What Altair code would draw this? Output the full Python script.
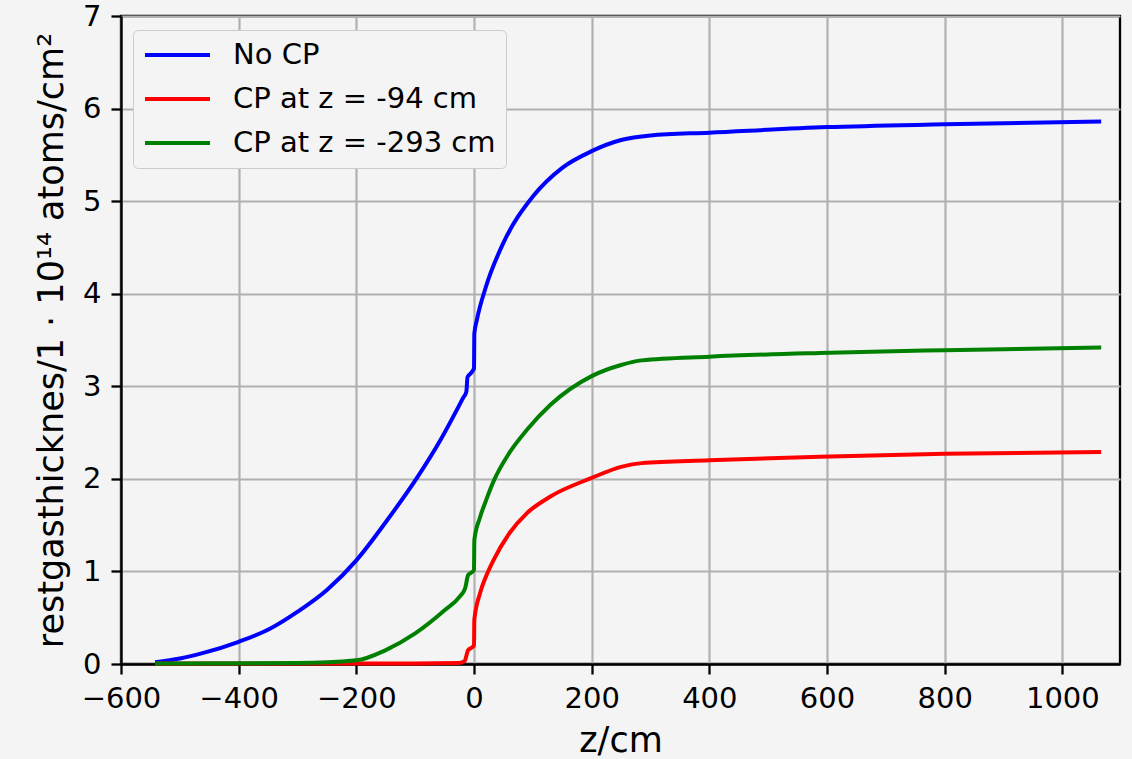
import altair as alt
import pandas as pd

series_names = ["No CP", "CP at z = -94 cm", "CP at z = -293 cm"]
series_colors = ["#0000ff", "#ff0000", "#008000"]

z_nocp = [-542, -500, -460, -400, -347, -301, -250, -200, -148, -97, -57, -18, -13, -11, -4, -1, 0, 0.6, 5, 20, 50, 100, 150, 200, 250, 300, 400, 600, 800, 1066]
y_nocp = [0.02, 0.06, 0.12, 0.24, 0.38, 0.56, 0.80, 1.12, 1.55, 2.01, 2.42, 2.88, 2.94, 3.10, 3.15, 3.18, 3.19, 3.57, 3.72, 4.07, 4.55, 5.05, 5.36, 5.54, 5.66, 5.71, 5.74, 5.80, 5.83, 5.86]

z_cp94 = [-542, -200, -100, -25, -16, -10, -3, 0, 0.6, 10, 20, 33, 60, 90, 130, 200, 250, 285, 400, 588, 800, 1066]
y_cp94 = [0.005, 0.005, 0.005, 0.01, 0.03, 0.15, 0.18, 0.20, 0.48, 0.76, 0.94, 1.12, 1.41, 1.63, 1.81, 2.01, 2.13, 2.17, 2.20, 2.24, 2.27, 2.29]

z_cp293 = [-542, -300, -200, -150, -100, -50, -24, -15, -10, -2, 0, 0.6, 10, 20, 33, 60, 90, 130, 200, 250, 285, 400, 588, 800, 1066]
y_cp293 = [0.005, 0.01, 0.04, 0.15, 0.33, 0.58, 0.73, 0.82, 0.96, 1.00, 1.02, 1.34, 1.58, 1.76, 1.97, 2.28, 2.53, 2.80, 3.11, 3.23, 3.28, 3.32, 3.36, 3.39, 3.42]

x_ticks = [-600, -400, -200, 0, 200, 400, 600, 800, 1000]
y_ticks = [0, 1, 2, 3, 4, 5, 6, 7]

rows = []
for name, zs, ys in zip(series_names, [z_nocp, z_cp94, z_cp293], [y_nocp, y_cp94, y_cp293]):
    for i, (z, y) in enumerate(zip(zs, ys)):
        rows.append({"series": name, "z": z, "y": y, "i": i})
df = pd.DataFrame(rows)

FONT = "DejaVu Sans"

chart = alt.Chart(df).mark_line(strokeWidth=4, strokeCap="butt", strokeJoin="round",
                                interpolate="monotone").encode(
    x=alt.X("z:Q",
            scale=alt.Scale(domain=[-600, 1098], nice=False, zero=False),
            axis=alt.Axis(values=x_ticks, title="z/cm", titleY=87, titleBaseline="alphabetic",
                          labelPadding=10, labelFlush=False, format="d")),
    y=alt.Y("y:Q",
            scale=alt.Scale(domain=[0, 7], nice=False),
            axis=alt.Axis(values=y_ticks, title="restgasthicknes/1 · 10¹⁴ atoms/cm²",
                          titleX=-59, titleBaseline="alphabetic", labelPadding=10, format="d")),
    color=alt.Color("series:N",
                    scale=alt.Scale(domain=series_names, range=series_colors),
                    sort=series_names,
                    legend=alt.Legend(orient="none", legendX=12, legendY=14, title=None,
                                      symbolType="stroke", symbolSize=4225, symbolStrokeWidth=4,
                                      clipHeight=30, rowPadding=14, labelOffset=21, padding=10,
                                      labelFontSize=29, labelFont=FONT, labelColor="#000000",
                                      strokeColor="#cccccc", fillColor="#f4f4f4", cornerRadius=5,
                                      labelLimit=0)),
    order="i:Q",
    detail="series:N",
).properties(
    width=999, height=648,
    autosize=alt.AutoSizeParams(type="none"),
    padding={"left": 121, "top": 16, "right": 12, "bottom": 95},
    background="#f4f4f4",
).configure_view(
    stroke="#000000", strokeWidth=2.3, fill="#f4f4f4"
).configure_axis(
    labelFont=FONT, titleFont=FONT, labelFontSize=29, titleFontSize=35,
    labelColor="#000000", titleColor="#000000", titleFontWeight="normal",
    domainColor="#000000", domainWidth=2.3,
    tickColor="#000000", tickWidth=2.3, tickSize=10,
    gridColor="#b0b0b0", gridWidth=2.2, gridOpacity=1,
)

chart.save("out.html", embed_options={"renderer": "svg", "actions": False})
